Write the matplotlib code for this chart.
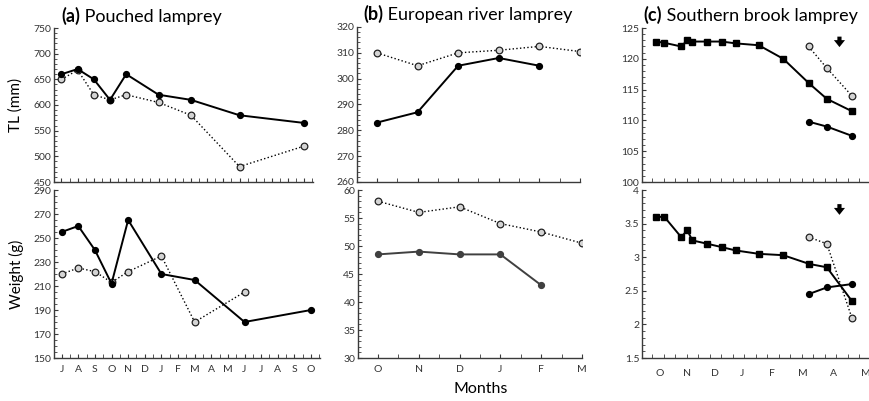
import matplotlib
matplotlib.use('Agg')
import matplotlib.pyplot as plt
from matplotlib.ticker import MultipleLocator

plt.rcParams['font.family'] = ['Lato', 'DejaVu Sans']

# (a) Pouched lamprey, x = month index from first J
a_months = ['J', 'A', 'S', 'O', 'N', 'D', 'J', 'F', 'M', 'A', 'M', 'J', 'J', 'A', 'S', 'O']
a_x = [0, 1, 2, 3, 4, 6, 8, 11, 15]
a_tl_solid = [660, 670, 650, 610, 660, 620, 610, 580, 565]
a_tl_dot = [650, 668, 620, 610, 620, 605, 580, 480, 520]
a_wt_solid = [255, 260, 240, 212, 265, 220, 215, 180, 190]
a_wt_dot_x = [0, 1, 2, 3, 4, 6, 8, 11]
a_wt_dot = [220, 225, 222, 213, 222, 235, 180, 205]

# (b) European river lamprey
b_months = ['O', 'N', 'D', 'J', 'F', 'M']
b_x_solid = [0, 1, 2, 3, 4]
b_x_dot = [0, 1, 2, 3, 4, 5]
b_tl_solid = [283, 287, 305, 308, 305]
b_tl_dot = [310, 305, 310, 311, 312.5, 310.5]
b_wt_solid = [48.5, 49, 48.5, 48.5, 43]
b_wt_dot = [58, 56, 57, 54, 52.5, 50.5]

# (c) Southern brook lamprey, x in months from O
c_months = ['O', 'N', 'D', 'J', 'F', 'M', 'A', 'M']
c_month_pos = [0, 0.91, 1.87, 2.78, 3.80, 4.87, 5.89, 6.99]
c_x = [-0.13, 0.15, 0.72, 0.93, 1.10, 1.61, 2.10, 2.58, 3.36, 4.19, 5.07, 5.67, 6.52]
c_tl_sq = [122.8, 122.6, 122.0, 123.0, 122.8, 122.8, 122.8, 122.5, 122.2, 120.0, 116.0, 113.5, 111.5]
c_wt_sq = [3.6, 3.6, 3.3, 3.4, 3.25, 3.2, 3.15, 3.1, 3.05, 3.03, 2.9, 2.85, 2.35]
c_x_late = [5.05, 5.67, 6.52]
c_tl_circ = [109.8, 109.0, 107.5]
c_tl_open = [122.0, 118.5, 114.0]
c_wt_circ = [2.45, 2.55, 2.6]
c_wt_open = [3.3, 3.2, 2.1]
c_arrow_x = 6.10

W, H = 869, 401
fig = plt.figure(figsize=(W / 100, H / 100), dpi=100)


def make_ax(left, top, right, bottom):
    return fig.add_axes([left / W, 1 - bottom / H, (right - left) / W, (bottom - top) / H])


axes = {
    'a1': make_ax(54, 28, 313, 182), 'a2': make_ax(54, 190, 320, 358),
    'b1': make_ax(357, 27, 580, 182), 'b2': make_ax(358, 190, 582, 358),
    'c1': make_ax(642, 28, 868, 182), 'c2': make_ax(642, 190, 868, 358),
}

axis_col = '#3a3a3a'
solid = dict(color='black', lw=1.4, marker='o', ms=4.2, mfc='black', mec='black')
dotted = dict(color='black', lw=1.0, ls=':', marker='o', ms=4.8, mfc='#d4d4d4', mec='#222222', mew=0.9)
square = dict(color='black', lw=1.4, marker='s', ms=4.6, mfc='black', mec='black')

for ax in axes.values():
    for s in ['top', 'right']:
        ax.spines[s].set_visible(False)
    for s in ['left', 'bottom']:
        ax.spines[s].set_color(axis_col)
        ax.spines[s].set_linewidth(1.0)
    ax.tick_params(which='both', direction='in', color=axis_col, labelcolor='#333333', labelsize=7.5)
    ax.tick_params(axis='y', which='major', length=3, pad=2)
    ax.tick_params(axis='y', which='minor', length=2)
    ax.tick_params(axis='x', which='both', length=3, pad=5)

# (a)
ax = axes['a1']
ax.plot(a_x, a_tl_dot, **dotted)
ax.plot(a_x, a_tl_solid, **solid)
ax.set_ylim(450, 750)
ax.yaxis.set_major_locator(MultipleLocator(50))
ax.yaxis.set_minor_locator(MultipleLocator(10))
ax.set_xlim(-0.46, 15.54)
ax.set_xticks(range(16))
ax.set_xticklabels([])
ax.xaxis.set_minor_locator(MultipleLocator(0.5))

ax = axes['a2']
ax.plot(a_wt_dot_x, a_wt_dot, **dotted)
ax.plot(a_x, a_wt_solid, **solid)
ax.set_ylim(150, 290)
ax.set_yticks(range(150, 291, 20))
ax.yaxis.set_minor_locator(MultipleLocator(5))
ax.set_xlim(-0.46, 15.54)
ax.set_xticks(range(16))
ax.set_xticklabels(a_months)
ax.xaxis.set_minor_locator(MultipleLocator(0.5))

# (b)
ax = axes['b1']
ax.plot(b_x_dot, b_tl_dot, **dotted)
ax.plot(b_x_solid, b_tl_solid, **solid)
ax.set_ylim(260, 320)
ax.yaxis.set_major_locator(MultipleLocator(10))
ax.yaxis.set_minor_locator(MultipleLocator(2))
ax.set_xlim(-0.49, 5.0)
ax.set_xticks(range(6))
ax.set_xticklabels([])
ax.xaxis.set_minor_locator(MultipleLocator(0.5))

ax = axes['b2']
ax.plot(b_x_dot, b_wt_dot, **dotted)
ax.plot(b_x_solid, b_wt_solid, **dict(solid, color='#404040', mfc='#404040', mec='#404040'))
ax.set_ylim(30, 60)
ax.yaxis.set_major_locator(MultipleLocator(5))
ax.yaxis.set_minor_locator(MultipleLocator(1))
ax.set_xlim(-0.49, 5.0)
ax.set_xticks(range(6))
ax.set_xticklabels(b_months)
ax.xaxis.set_minor_locator(MultipleLocator(0.5))

# (c)
arrow = dict(arrowstyle='simple,head_length=0.5,head_width=0.8,tail_width=0.3', color='black',
             mutation_scale=10, shrinkA=0, shrinkB=0, lw=0)

ax = axes['c1']
ax.plot(c_x_late, c_tl_open, **dotted)
ax.plot(c_x, c_tl_sq, **square)
ax.plot(c_x_late, c_tl_circ, **solid)
ax.annotate('', xy=(c_arrow_x, 121.9), xytext=(c_arrow_x, 123.6), arrowprops=arrow)
ax.set_ylim(100, 125)
ax.yaxis.set_major_locator(MultipleLocator(5))
ax.yaxis.set_minor_locator(MultipleLocator(1))

ax = axes['c2']
ax.plot(c_x_late, c_wt_open, **dotted)
ax.plot(c_x, c_wt_sq, **square)
ax.plot(c_x_late, c_wt_circ, **solid)
ax.annotate('', xy=(c_arrow_x, 3.63), xytext=(c_arrow_x, 3.79), arrowprops=arrow)
ax.set_ylim(1.5, 4)
ax.set_yticks([1.5, 2, 2.5, 3, 3.5, 4])
ax.set_yticklabels(['1.5', '2', '2.5', '3', '3.5', '4'])
ax.yaxis.set_minor_locator(MultipleLocator(0.1))

for key in ['c1', 'c2']:
    ax = axes[key]
    ax.set_xlim(-0.61, 7.07)
    ax.set_xticks(c_month_pos)
    ax.set_xticklabels(c_months if key == 'c2' else [])
    ax.tick_params(axis='x', which='major', length=0, pad=8)
    ax.xaxis.set_minor_locator(MultipleLocator(0.391, offset=-0.262))

# titles: bold panel tag followed by the species name
for key, x0, base, tag, name in [('a1', 61, 21.5, '(a)', ' Pouched lamprey'),
                                 ('b1', 363, 19.5, '(b)', ' European river lamprey'),
                                 ('c1', 643, 20.5, '(c)', ' Southern brook lamprey')]:
    t = fig.text(x0 / W, 1 - base / H, tag, fontsize=13, fontweight='bold', va='baseline', ha='left')
    axes[key].annotate(name, xy=(1, 0), xycoords=t, va='bottom', ha='left', fontsize=13,
                       annotation_clip=False)

fig.text(16 / W, 1 - 105 / H, 'TL (mm)', rotation=90, fontsize=11, ha='center', va='center')
fig.text(16 / W, 1 - 274 / H, 'Weight (g)', rotation=90, fontsize=11, ha='center', va='center')
fig.text(481 / W, 1 - 389 / H, 'Months', fontsize=11.5, ha='center', va='center')

fig.savefig('out.png', dpi=100)
